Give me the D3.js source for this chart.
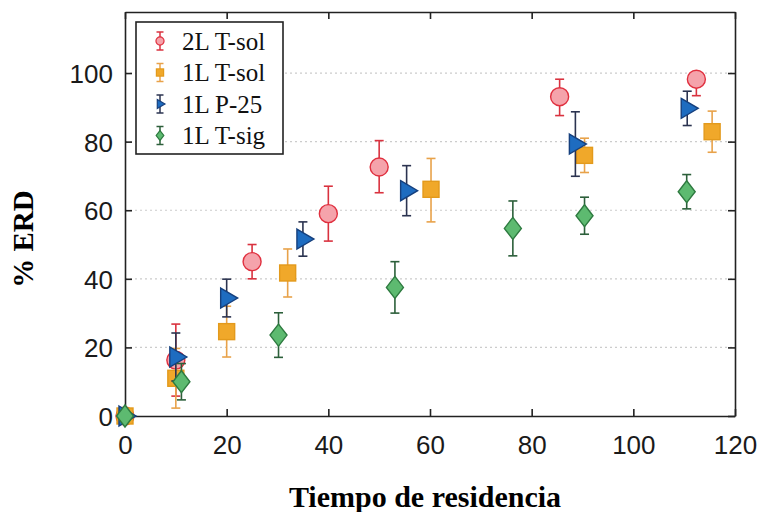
<!DOCTYPE html>
<html>
<head>
<meta charset="utf-8">
<script src="https://cdn.jsdelivr.net/npm/d3@7"></script>
<style>
  body { margin: 0; background: #fff; }
  .tick text { font-family: "Liberation Sans", Arial, sans-serif; font-size: 26px; fill: #1a1a1a; }
</style>
</head>
<body>
<svg id="chart" width="763" height="512"></svg>
<script>
// data
const seriesNames = ["2L T-sol", "1L T-sol", "1L P-25", "1L T-sig"];

const solX2 = [0, 10, 25, 40, 50, 85.5, 112.4];
const solY2 = [0, 16.3, 45, 59, 72.6, 93.1, 98.2];
const solLo2 = [0, 10.5, 5, 8, 7.5, 5.5, 4.8];
const solHi2 = [0, 10.5, 5, 8, 7.7, 5.1, 2.0];

const solX1 = [0, 10, 20, 32, 60.2, 90.4, 115.5];
const solY1 = [0, 11, 24.6, 41.7, 66.1, 76, 82.9];
const solLo1 = [0, 8.7, 7.4, 7, 9.5, 5, 6];
const solHi1 = [0, 8.7, 7.4, 7, 9, 5, 6];

const p25X = [0, 10, 20, 35, 55.4, 88.6, 110.6];
const p25Y = [0, 17.2, 34.4, 51.6, 65.7, 79.3, 89.7];
const p25Lo = [0, 7, 5.5, 5, 7.3, 9.4, 5];
const p25Hi = [0, 7, 5.5, 5, 7.3, 9.4, 5];

const sigX = [0, 11.1, 30.2, 53.1, 76.3, 90.4, 110.5];
const sigY = [0, 10, 23.6, 37.5, 54.7, 58.4, 65.4];
const sigLo = [0, 5.3, 6.5, 7.5, 8, 5.4, 5];
const sigHi = [0, 5.3, 6.5, 7.5, 8, 5.4, 5];

const xTicks = [0, 20, 40, 60, 80, 100, 120];
const yTicks = [0, 20, 40, 60, 80, 100];

// layout
const margin = {top: 12, right: 28, bottom: 96, left: 125};
const width = 735 - margin.left;
const height = 416 - margin.top;

const svg = d3.select('#chart')
  .append('g')
  .attr('transform', 'translate(' + margin.left + ',' + margin.top + ')');

const x = d3.scaleLinear().domain([0, 120]).range([0, width]);
const y = d3.scaleLinear().domain([0, 117.8]).range([height, 0]);

// grid
svg.append('g').selectAll('line')
  .data(yTicks.filter(d => d > 0))
  .enter().append('line')
  .attr('x1', 0).attr('x2', width)
  .attr('y1', d => y(d)).attr('y2', d => y(d))
  .attr('stroke', '#cccccc')
  .attr('stroke-width', 1.2)
  .attr('stroke-dasharray', '2,3');

// axes (ticks pointing inward)
const axB = svg.append('g').attr('transform', 'translate(0,' + height + ')')
  .call(d3.axisBottom(x).tickValues(xTicks).tickSizeInner(-7).tickSizeOuter(0).tickPadding(14));
const axL = svg.append('g')
  .call(d3.axisLeft(y).tickValues(yTicks).tickSizeInner(-7).tickSizeOuter(0).tickPadding(12));
const axT = svg.append('g')
  .call(d3.axisTop(x).tickValues(xTicks).tickSizeInner(-7).tickSizeOuter(0).tickFormat(''));
const axR = svg.append('g').attr('transform', 'translate(' + width + ',0)')
  .call(d3.axisRight(y).tickValues(yTicks).tickSizeInner(-7).tickSizeOuter(0).tickFormat(''));
[axB, axL, axT, axR].forEach(a => {
  a.selectAll('.domain').attr('stroke', '#222').attr('stroke-width', 1.6);
  a.selectAll('.tick line').attr('stroke', '#222').attr('stroke-width', 1.6);
});
axL.selectAll('.tick text').attr('dy', '0.36em');
axB.selectAll('.tick text').attr('y', 38).attr('dy', 0);

// marker shapes
function drawMarker(g, kind, s) {
  if (kind === 'circle') {
    g.append('circle').attr('r', 9 * s);
  } else if (kind === 'square') {
    g.append('rect').attr('x', -8 * s).attr('y', -8 * s).attr('width', 16 * s).attr('height', 16 * s);
  } else if (kind === 'triangle') {
    g.append('path').attr('d', 'M' + (-6 * s) + ',' + (-10 * s) + 'L' + (11 * s) + ',0L' + (-6 * s) + ',' + (10 * s) + 'Z');
  } else {
    g.append('path').attr('d', 'M0,' + (-11 * s) + 'L' + (8.5 * s) + ',0L0,' + (11 * s) + 'L' + (-8.5 * s) + ',0Z');
  }
}

const series = [
  {name: seriesNames[0], xs: solX2, ys: solY2, lo: solLo2, hi: solHi2, kind: 'circle', fill: '#f5a3ab', stroke: '#e0303f', bar: '#d9323f'},
  {name: seriesNames[1], xs: solX1, ys: solY1, lo: solLo1, hi: solHi1, kind: 'square', fill: '#f0a82a', stroke: '#e39a1c', bar: '#e8a24a'},
  {name: seriesNames[2], xs: p25X, ys: p25Y, lo: p25Lo, hi: p25Hi, kind: 'triangle', fill: '#1e6cc0', stroke: '#16407e', bar: '#2b3350'},
  {name: seriesNames[3], xs: sigX, ys: sigY, lo: sigLo, hi: sigHi, kind: 'diamond', fill: '#5dba70', stroke: '#2e7a40', bar: '#2c5f3a'}
];

series.forEach(function(sr) {
  const pts = sr.xs.map((v, i) => ({x: v, y: sr.ys[i], lo: sr.lo[i], hi: sr.hi[i]}));
  const g = svg.append('g');
  pts.forEach(function(p) {
    if (p.lo === 0 && p.hi === 0) return;
    const eb = g.append('g').attr('stroke', sr.bar).attr('stroke-width', 1.6);
    eb.append('line').attr('x1', x(p.x)).attr('x2', x(p.x)).attr('y1', y(p.y - p.lo)).attr('y2', y(p.y + p.hi));
    eb.append('line').attr('x1', x(p.x) - 4.5).attr('x2', x(p.x) + 4.5).attr('y1', y(p.y - p.lo)).attr('y2', y(p.y - p.lo));
    eb.append('line').attr('x1', x(p.x) - 4.5).attr('x2', x(p.x) + 4.5).attr('y1', y(p.y + p.hi)).attr('y2', y(p.y + p.hi));
  });
  pts.forEach(function(p) {
    const m = g.append('g').attr('transform', 'translate(' + x(p.x) + ',' + y(p.y) + ')')
      .attr('fill', sr.fill).attr('stroke', sr.stroke).attr('stroke-width', 1.4);
    drawMarker(m, sr.kind, 1);
  });
});

// legend
const legend = d3.select('#chart').append('g');
legend.append('rect')
  .attr('x', 136).attr('y', 22).attr('width', 147).attr('height', 132)
  .attr('fill', '#fff').attr('stroke', '#222').attr('stroke-width', 1.6);
series.forEach(function(sr, i) {
  const cy = 41 + i * 31.5;
  const lg = legend.append('g').attr('transform', 'translate(160,' + cy + ')');
  lg.append('line').attr('x1', 0).attr('x2', 0).attr('y1', -9).attr('y2', 9).attr('stroke', sr.bar).attr('stroke-width', 1.5);
  lg.append('line').attr('x1', -3.5).attr('x2', 3.5).attr('y1', -9).attr('y2', -9).attr('stroke', sr.bar).attr('stroke-width', 1.5);
  lg.append('line').attr('x1', -3.5).attr('x2', 3.5).attr('y1', 9).attr('y2', 9).attr('stroke', sr.bar).attr('stroke-width', 1.5);
  const m = lg.append('g').attr('fill', sr.fill).attr('stroke', sr.stroke).attr('stroke-width', 1.2);
  drawMarker(m, sr.kind, 0.45);
  lg.append('text').attr('x', 22).attr('y', 0).attr('dy', '0.34em')
    .style('font-family', '"Liberation Serif", "Times New Roman", serif')
    .style('font-size', '25px').attr('fill', '#111')
    .text(sr.name);
});

// axis titles
d3.select('#chart').append('text')
  .attr('x', 425).attr('y', 507)
  .attr('text-anchor', 'middle')
  .style('font-family', '"Liberation Serif", "Times New Roman", serif')
  .style('font-size', '30px').style('font-weight', 'bold')
  .text('Tiempo de residencia');

d3.select('#chart').append('text')
  .attr('transform', 'translate(33,239) rotate(-90)')
  .attr('text-anchor', 'middle')
  .style('font-family', '"Liberation Serif", "Times New Roman", serif')
  .style('font-size', '29px').style('font-weight', 'bold')
  .text('% ERD');
</script>
</body>
</html>
